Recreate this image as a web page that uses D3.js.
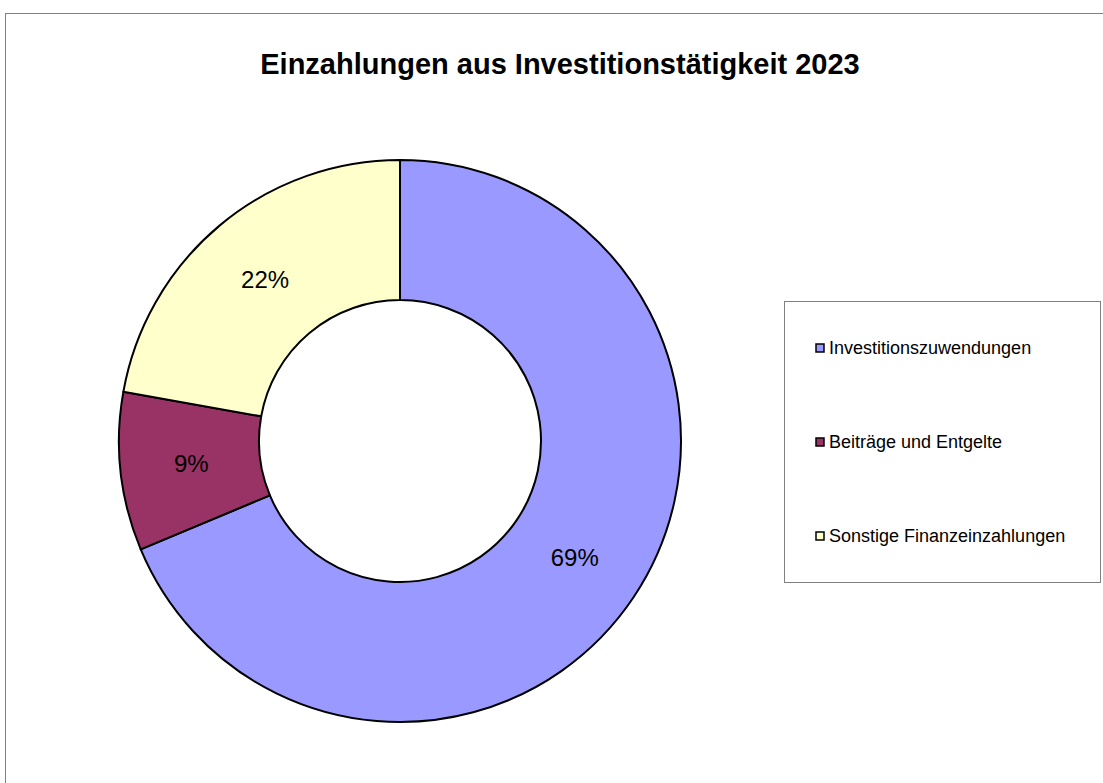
<!DOCTYPE html>
<html><head><meta charset="utf-8">
<script src="https://cdn.jsdelivr.net/npm/d3@7"></script>
<style>body{margin:0;background:#fff;} svg{display:block;font-family:"Liberation Sans",Arial,sans-serif;}</style>
</head><body>
<svg id="c" width="1103" height="783"></svg>
<script>
const categories = ["Investitionszuwendungen", "Beiträge und Entgelte", "Sonstige Finanzeinzahlungen"];
const values = [68.7, 9.1, 22.2];
const labels = ["69%", "9%", "22%"];
const colors = ["#9999FF", "#993366", "#FFFFCC"];
const title = "Einzahlungen aus Investitionstätigkeit 2023";

const svg = d3.select("#c");
svg.append("rect").attr("x",5.5).attr("y",13.5).attr("width",1200).attr("height",900)
  .attr("fill","#fff").attr("stroke","#808080").attr("stroke-width",1);

svg.append("text").attr("x",560).attr("y",74).attr("text-anchor","middle")
  .attr("font-size",29).attr("font-weight","bold").text(title);

const cx = 400, cy = 441, R = 281, r = 141;
const data = categories.map((c,i)=>({c, v: values[i], l: labels[i], col: colors[i]}));
const pie = d3.pie().value(d=>d.v).sort(null);
const arc = d3.arc().innerRadius(r).outerRadius(R);
const mid = d3.arc().innerRadius(210).outerRadius(210);
const g = svg.append("g").attr("transform",`translate(${cx},${cy})`);
const arcs = pie(data);
g.selectAll("path").data(arcs).join("path").attr("d",arc)
  .attr("fill",d=>d.data.col).attr("stroke","#000").attr("stroke-width",2).attr("stroke-linejoin","round");
g.selectAll("text").data(arcs).join("text")
  .attr("transform",d=>`translate(${mid.centroid(d)})`)
  .attr("text-anchor","middle").attr("dy","0.35em").attr("font-size",24).text(d=>d.data.l);

const lg = svg.append("g");
lg.append("rect").attr("x",784.5).attr("y",301.5).attr("width",316).attr("height",281)
  .attr("fill","#fff").attr("stroke","#808080").attr("stroke-width",1);
const ly = d3.scalePoint().domain(categories).range([348,536]);
const items = lg.selectAll("g.it").data(data).join("g").attr("class","it")
  .attr("transform",d=>`translate(0,${ly(d.c)})`);
items.append("rect").attr("x",816).attr("y",-4).attr("width",8).attr("height",8)
  .attr("fill",d=>d.col).attr("stroke","#000").attr("stroke-width",1.5);
items.append("text").attr("x",829).attr("y",0).attr("dy","0.35em").attr("font-size",18).text(d=>d.c);
</script>
</body></html>
